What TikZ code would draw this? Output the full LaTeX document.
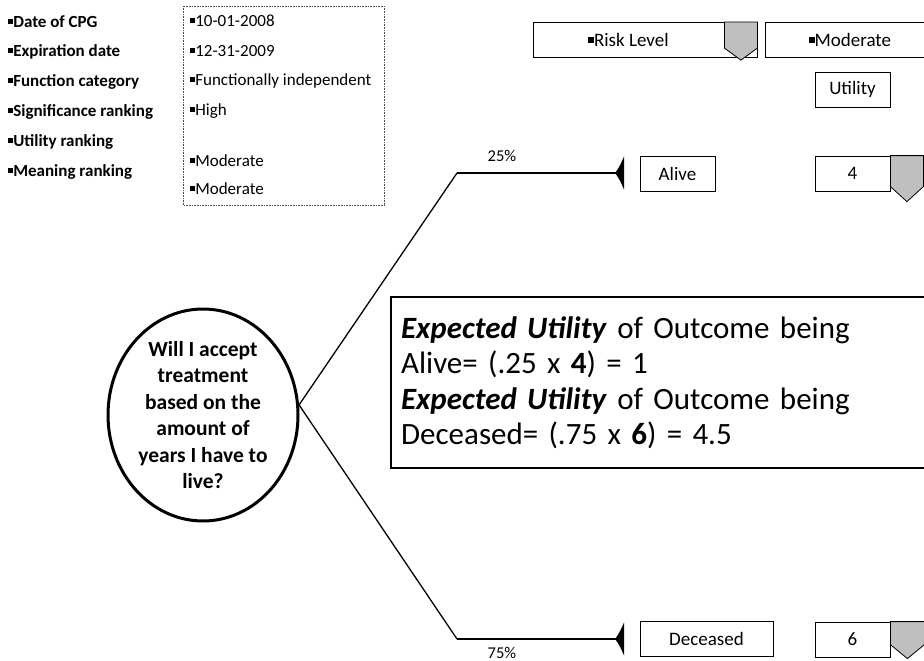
\documentclass[tikz,border=0pt]{standalone}
\usepackage{fontspec}
\setmainfont{Carlito}
\usetikzlibrary{arrows.meta}
\usetikzlibrary{shapes.geometric}
\newcommand{\sqbul}{\rule[0.2em]{0.3em}{0.3em}}

\begin{document}
\begin{tikzpicture}[x=1pt, y=-1pt,
  lbl/.style={anchor=west, inner sep=0pt, font=\fontsize{17}{20}\selectfont\bfseries},
  val/.style={anchor=west, inner sep=0pt, font=\fontsize{17}{20}\selectfont},
  cell/.style={draw, line width=0.8pt, minimum height=35pt, inner sep=0pt, font=\fontsize{19}{22}\selectfont},
  shield/.style={draw, line width=0.8pt, fill=black!25},
  stem/.style={line width=1.3pt},
  branch/.style={line width=2pt, -{Latex[reversed, length=9pt, width=36pt]}},
  pct/.style={inner sep=0pt, font=\fontsize{16.5}{18}\selectfont}]
\useasboundingbox (0,0) rectangle (924,661);

% guideline attributes
\node[lbl] (l1) at (8, 22)  {\sqbul Date of CPG};
\node[lbl] (l2) at (8, 52)  {\sqbul Expiration date};
\node[lbl] (l3) at (8, 82)  {\sqbul Function category};
\node[lbl] (l4) at (8, 112) {\sqbul Significance ranking};
\node[lbl] (l5) at (8, 142) {\sqbul Utility ranking};
\node[lbl] (l6) at (8, 172) {\sqbul Meaning ranking};
\draw[densely dotted, line width=0.6pt, black!70] (183,6) rectangle (384,205);
\node[val] (v1) at (190, 21)  {\sqbul 10-01-2008};
\node[val] (v2) at (190, 51)  {\sqbul 12-31-2009};
\node[val] (v3) at (190, 81)  {\sqbul Functionally independent};
\node[val] (v4) at (190, 111) {\sqbul High};
\node[val] (v5) at (190, 161) {\sqbul Moderate};
\node[val] (v6) at (190, 189) {\sqbul Moderate};

% risk level
\node[cell, minimum width=224pt] (risk) at (645,40) {\sqbul Risk Level\hspace*{33pt}};
\draw[shield] (risk.north east) -- ++(0,26) -- ++(-16.5,12) -- ++(-16.5,-12) -- ++(0,-26) -- cycle;
\node[cell, minimum width=170pt] (riskval) at (850,40) {\sqbul Moderate};
\node[cell, minimum width=75pt] (util) at (852.5,89.5) {Utility};

% decision node
\node[ellipse, draw, line width=3pt, inner sep=0pt, minimum width=190pt, minimum height=212pt,
  align=center, font=\fontsize{21.5}{26.5}\selectfont\bfseries] (q) at (203,415)
  {Will I accept\\ treatment\\ based on the\\ amount of\\ years I have to\\ live?};

% branches
\coordinate (upbend)   at (457,173);
\coordinate (upend)    at (624,173);
\coordinate (downbend) at (457,639);
\coordinate (downend)  at (624,639);
\draw[stem] (q.6) -- (upbend);
\draw[stem] (q.6) -- (downbend);
\draw[branch] (upbend) -- (upend);
\draw[branch] (downbend) -- (downend);
\node[pct] (pup)   at (502,156) {25\%};
\node[pct] (pdown) at (502,653) {75\%};

% outcomes
\node[cell, minimum width=75pt]  (alive) at (677.5,173.5) {Alive};
\node[cell, minimum width=75pt]  (ua)    at (852.5,173.5) {4};
\draw[shield] (ua.north east) -- ++(33,0) -- ++(0,31) -- ++(-16.5,15) -- ++(-16.5,-15) -- cycle;
\node[cell, minimum width=133pt] (dead)  at (706.5,639) {Deceased};
\node[cell, minimum width=75pt]  (ud)    at (852.5,639.5) {6};
\draw[shield] (ud.north east) -- ++(34,0) -- ++(0,23) -- ++(-17,14) -- ++(-17,-14) -- cycle;

% expected utility
\node[draw, line width=2.2pt, anchor=north west, minimum width=560pt, minimum height=171pt,
  text width=540pt, inner xsep=10pt, align=left, font=\fontsize{31}{35.5}\selectfont] (eu) at (390,296)
  {\textbf{\textit{Expected Utility}} of Outcome being\\
   Alive= (.25 x \textbf{4}) = 1\\
   \textbf{\textit{Expected Utility}} of Outcome being\\
   Deceased= (.75 x \textbf{6}) = 4.5};
\end{tikzpicture}
\end{document}
